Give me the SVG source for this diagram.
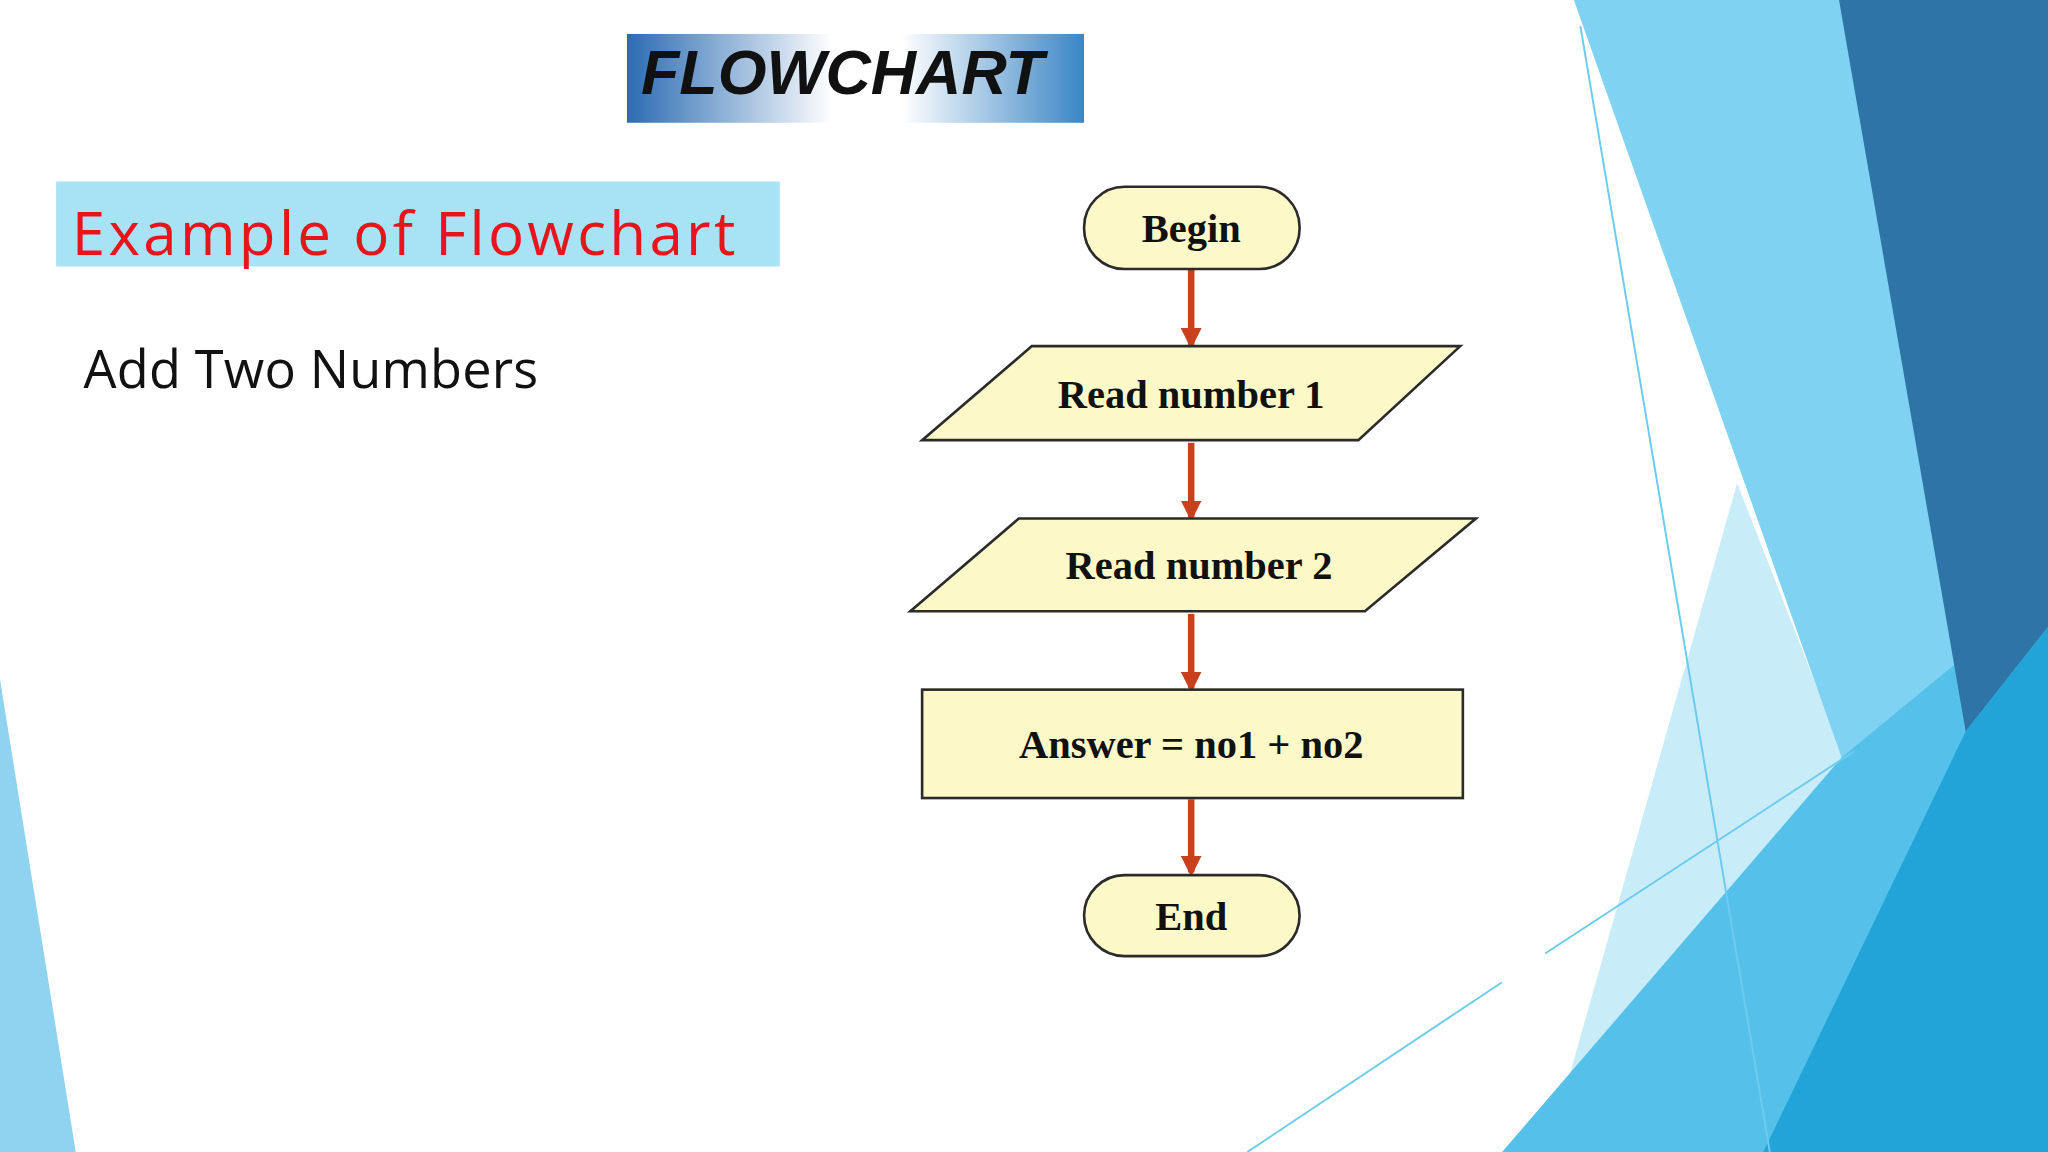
<svg xmlns="http://www.w3.org/2000/svg" width="2048" height="1152" viewBox="0 0 2048 1152">
<defs>
<linearGradient id="tg" x1="0" y1="0" x2="1" y2="0">
<stop offset="0" stop-color="#2a6cb3"/><stop offset="0.45" stop-color="#ffffff"/><stop offset="0.6" stop-color="#ffffff"/><stop offset="1" stop-color="#3a86c6"/>
</linearGradient>
<marker id="ah" viewBox="0 0 10 10" refX="8" refY="5" markerWidth="3.2" markerHeight="3.2" orient="auto"><path d="M0,0 L10,5 L0,10 Z" fill="#c8401e"/></marker>
<style>
.sh{fill:#fdf8c8;stroke:#2b2b2b;stroke-width:2}
.ft{font-family:"Liberation Serif",serif;font-weight:bold;font-size:31px;fill:#111;text-anchor:middle}
.ar{stroke:#c8401e;stroke-width:5;fill:none;marker-end:url(#ah)}
</style>
</defs>
<g transform="scale(1.30612)">
<rect width="1568" height="882" fill="#ffffff"/>
<g id="background">
<polygon points="0,520 0,882 58,882" fill="#8fd3f0"/>
<polygon points="1330,370 1420,600 1185,882" fill="#c9ecf9"/>
<polygon points="1205,0 1568,0 1568,882 1410,580" fill="#7fd2f1"/>
<polygon points="1410,580 1568,450 1568,882 1150,882" fill="#55c1ea"/>
<polygon points="1408,0 1568,0 1568,480 1505,560" fill="#2e74a6"/>
<polygon points="1568,480 1568,882 1350,882 1505,560" fill="#22a4d9"/>
<line x1="1210" y1="20" x2="1355" y2="882" stroke="#6ccbef" stroke-width="1.5"/>
<line x1="1183" y1="730" x2="1420" y2="575" stroke="#6ccbef" stroke-width="1.5"/>
<line x1="955" y1="882" x2="1150" y2="752" stroke="#6ccbef" stroke-width="1.5"/>
</g>
<g id="title">
<rect x="480" y="26" width="350" height="68" fill="url(#tg)"/>
<text x="645" y="72" font-family="Liberation Sans,sans-serif" font-weight="bold" font-style="italic" font-size="48" text-anchor="middle" fill="#111">FLOWCHART</text>
</g>
<g id="subtitle">
<rect x="43" y="139" width="554" height="65" fill="#a8e2f5"/>
<text x="55" y="195" font-family="Open Sans,sans-serif" font-size="46" textLength="508" fill="#e8141c">Example of Flowchart</text>
</g>
<g id="caption">
<text x="64" y="297" font-family="Open Sans,sans-serif" font-size="40" textLength="348" fill="#111">Add Two Numbers</text>
</g>
<g id="connectors">
<line class="ar" x1="912" y1="206" x2="912" y2="264"/>
<line class="ar" x1="912" y1="339" x2="912" y2="396"/>
<line class="ar" x1="912" y1="470" x2="912" y2="527"/>
<line class="ar" x1="912" y1="612" x2="912" y2="668"/>
</g>
<g id="begin"><rect class="sh" x="830" y="143" width="165" height="63" rx="31"/><text class="ft" x="912" y="185">Begin</text></g>
<g id="read1"><polygon class="sh" points="790,265 1118,265 1040,337 706,337"/><text class="ft" x="912" y="312">Read number 1</text></g>
<g id="read2"><polygon class="sh" points="780,397 1130,397 1045,468 697,468"/><text class="ft" x="918" y="443">Read number 2</text></g>
<g id="answer"><rect class="sh" x="706" y="528" width="414" height="83"/><text class="ft" x="912" y="580">Answer = no1 + no2</text></g>
<g id="end"><rect class="sh" x="830" y="670" width="165" height="62" rx="31"/><text class="ft" x="912" y="712">End</text></g>
</g>
</svg>
